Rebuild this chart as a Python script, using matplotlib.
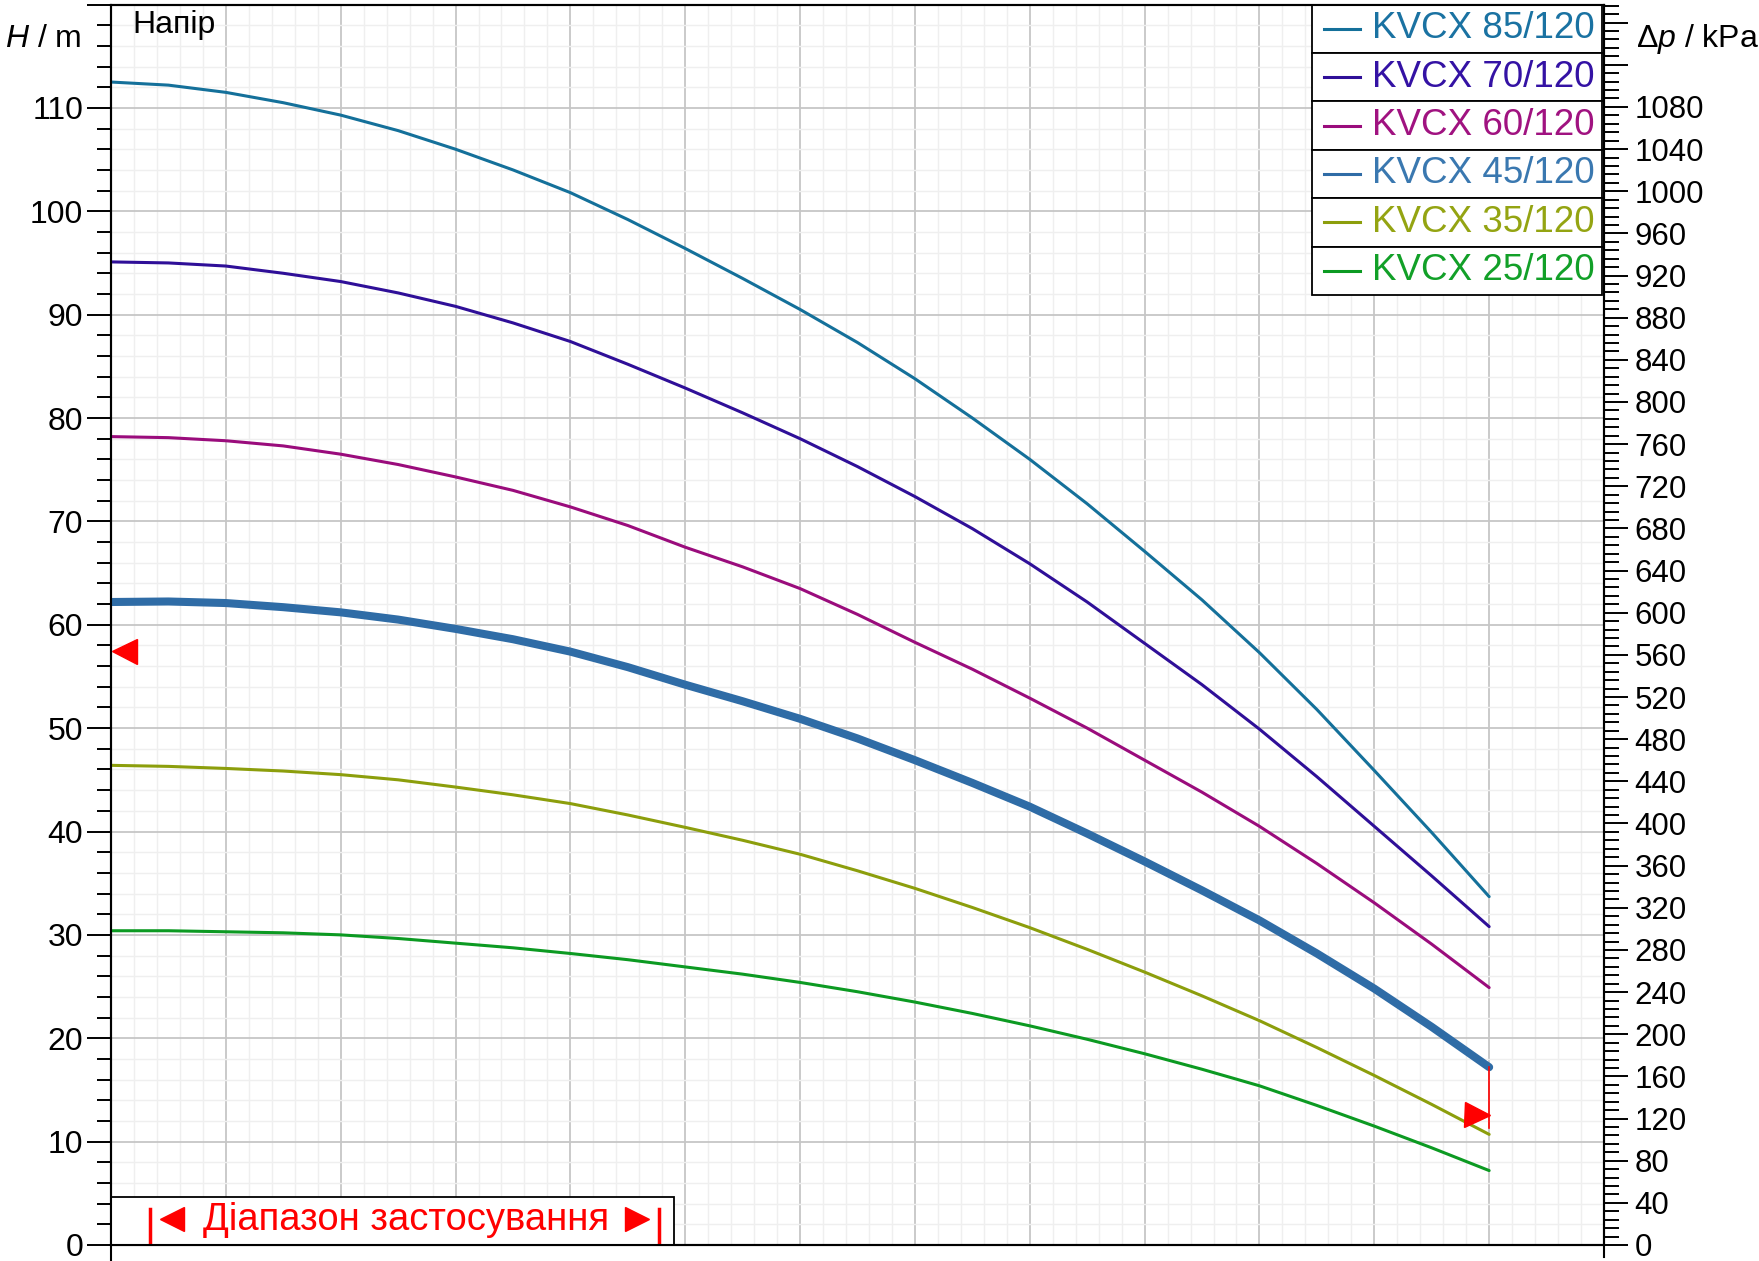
import numpy as np
import matplotlib
matplotlib.use('Agg')
import matplotlib.pyplot as plt
from matplotlib.patches import Rectangle
from matplotlib.ticker import FuncFormatter

plt.rcParams['font.family'] = ['Liberation Sans', 'DejaVu Sans']
plt.rcParams['mathtext.fontset'] = 'custom'
plt.rcParams['mathtext.rm'] = 'Liberation Sans'
plt.rcParams['mathtext.it'] = 'Liberation Sans:italic'

# дані (витрата - умовні одиниці сітки, напір у м)
q = [0, 0.5, 1, 1.5, 2, 2.5, 3, 3.5, 4, 4.5, 5, 5.5, 6, 6.5, 7, 7.5, 8, 8.5,
     9, 9.5, 10, 10.5, 11, 11.5, 12]
h85 = [112.5, 112.2, 111.5, 110.5, 109.3, 107.8, 106.0, 104.0, 101.8, 99.2, 96.4, 93.5,
       90.5, 87.3, 83.8, 80.0, 76.0, 71.7, 67.1, 62.4, 57.3, 51.8, 45.9, 39.9, 33.7]
h70 = [95.1, 95.0, 94.7, 94.0, 93.2, 92.1, 90.8, 89.2, 87.4, 85.2, 82.9, 80.5,
       78.0, 75.3, 72.4, 69.3, 65.9, 62.2, 58.2, 54.2, 49.9, 45.3, 40.5, 35.7, 30.8]
h60 = [78.2, 78.1, 77.8, 77.3, 76.5, 75.5, 74.3, 73.0, 71.4, 69.6, 67.5, 65.6,
       63.5, 61.0, 58.3, 55.7, 52.9, 50.0, 46.9, 43.8, 40.5, 36.9, 33.1, 29.1, 24.9]
h45 = [62.2, 62.25, 62.1, 61.7, 61.2, 60.5, 59.6, 58.6, 57.4, 55.9, 54.2, 52.6,
       50.9, 49.0, 46.9, 44.7, 42.4, 39.8, 37.1, 34.3, 31.4, 28.2, 24.8, 21.1, 17.2]
h35 = [46.4, 46.3, 46.1, 45.85, 45.5, 45.0, 44.3, 43.55, 42.7, 41.6, 40.4, 39.15,
       37.8, 36.2, 34.5, 32.65, 30.7, 28.6, 26.4, 24.1, 21.7, 19.1, 16.4, 13.6, 10.7]
h25 = [30.4, 30.4, 30.3, 30.2, 30.0, 29.65, 29.2, 28.75, 28.2, 27.6, 26.9, 26.2,
       25.4, 24.5, 23.5, 22.4, 21.2, 19.9, 18.5, 17.0, 15.4, 13.5, 11.5, 9.4, 7.2]

names = ['KVCX 85/120', 'KVCX 70/120', 'KVCX 60/120', 'KVCX 45/120', 'KVCX 35/120', 'KVCX 25/120']
curves = [h85, h70, h60, h45, h35, h25]
colors = ['#14709a', '#2f0f98', '#9a0c7c', '#2f6ca6', '#8c9e0c', '#0c9a22']
text_colors = ['#1a72a2', '#3412a4', '#a01280', '#3a78b0', '#94a412', '#12a028']
widths = [2.2, 2.2, 2.2, 5.8, 2.2, 2.2]

# робоча точка / діапазон
q_min, h_min = 0, 57.5
q_max, h_max = 12, 12.6

W, H = 1759, 1261
fig = plt.figure(figsize=(W / 100, H / 100), dpi=100)
ax = fig.add_axes([111 / W, 16 / H, 1493 / W, 1240.5 / H])

for h, c, lw in zip(curves, colors, widths):
    ax.plot(q, h, color=c, lw=lw, solid_capstyle='round', solid_joinstyle='round', zorder=3)

ax.set_xlim(0, 13)
ax.set_ylim(0, 120)
ax.set_xticks(range(14))
ax.set_xticks(np.arange(0, 13.001, 0.2), minor=True)
ax.set_yticks(range(0, 121, 10))
ax.set_yticks(range(0, 121, 2), minor=True)
ax.grid(which='major', color='#c6c6c6', lw=1.3, zorder=0)
ax.grid(which='minor', color='#efefef', lw=1.0, zorder=0)
ax.set_axisbelow(True)
ax.tick_params(axis='x', which='both', length=0, labelbottom=False)
ax.tick_params(axis='y', which='major', length=17, width=1.4, labelsize=23, pad=3)
ax.tick_params(axis='y', which='minor', length=10, width=1.4)
ax.yaxis.set_major_formatter(FuncFormatter(lambda v, p: '' if v >= 120 else f'{v:.0f}'))
for s in ax.spines.values():
    s.set_linewidth(1.5)

# права вісь, кПа
ax2 = ax.twinx()
ax2.set_ylim(0, 120 * 9.81)
ax2.set_yticks(range(0, 1161, 40))
ax2.set_yticks(range(0, 1177, 8), minor=True)
ax2.yaxis.set_major_formatter(FuncFormatter(lambda v, p: '' if v > 1080 else f'{v:.0f}'))
ax2.tick_params(axis='y', which='major', length=17, width=1.4, labelsize=22.5, pad=5)
ax2.tick_params(axis='y', which='minor', length=11, width=1.4)
for s in ax2.spines.values():
    s.set_linewidth(1.5)

# продовження осей вниз
ax.plot([0, 0], [0, -1.5], color='black', lw=1.5, clip_on=False)
ax.plot([13, 13], [0, -1.2], color='black', lw=1.5, clip_on=False)

# маркери діапазону
ax.plot([0, 0], [h45[0], h_min], color='red', lw=1.2, zorder=4)
ax.plot([q_max, q_max], [h45[-1], 11.3], color='red', lw=1.2, zorder=4)
ax.plot(q_min + 0.11, h_min, marker='<', ms=18, color='red', mec='red', zorder=5, clip_on=False)
ax.plot(q_max - 0.11, h_max, marker='>', ms=18, color='red', mec='red', zorder=5)

# рамка "Діапазон застосування"
ax.add_patch(Rectangle((0, 0), 4.9, 4.67, facecolor='white', edgecolor='black', lw=1.3, zorder=4))
ax.text(2.57, 2.4, 'Діапазон застосування', color='red', fontsize=27.5, ha='center', va='center', zorder=5)
ax.plot([0.34, 0.34], [0, 3.5], color='red', lw=2.5, zorder=5)
ax.plot([4.77, 4.77], [0, 3.5], color='red', lw=2.5, zorder=5)
ax.plot(0.53, 2.5, marker='<', ms=17, color='red', zorder=5)
ax.plot(4.58, 2.5, marker='>', ms=17, color='red', zorder=5)

# легенда у вигляді таблиці
x0, x1 = 0.8047, 0.9987
row = (1 - 0.7658) / 6
for i, (n, c, tc) in enumerate(zip(names, colors, text_colors)):
    y_top = 1 - i * row
    ax.add_patch(Rectangle((x0, y_top - row), x1 - x0, row, transform=ax.transAxes,
                           facecolor='white', edgecolor='black', lw=1.3, zorder=6))
    yc = y_top - row / 2
    ax.plot([0.8125, 0.8366], [yc, yc], transform=ax.transAxes, color=c, lw=2.2, zorder=7)
    ax.text(0.8445, yc, n, transform=ax.transAxes, color=tc, fontsize=26.5,
            ha='left', va='center', zorder=7)

fig.text(132 / W, 1 - 25 / H, 'Напір', fontsize=23, ha='left', va='center')
fig.text(5 / W, 1 - 39 / H, r'$\mathit{H}$ / m', fontsize=23, ha='left', va='center')
fig.text(1636 / W, 1 - 39 / H, r'Δ$\mathit{p}$ / kPa', fontsize=23, ha='left', va='center')

fig.savefig('out.png', dpi=100)
